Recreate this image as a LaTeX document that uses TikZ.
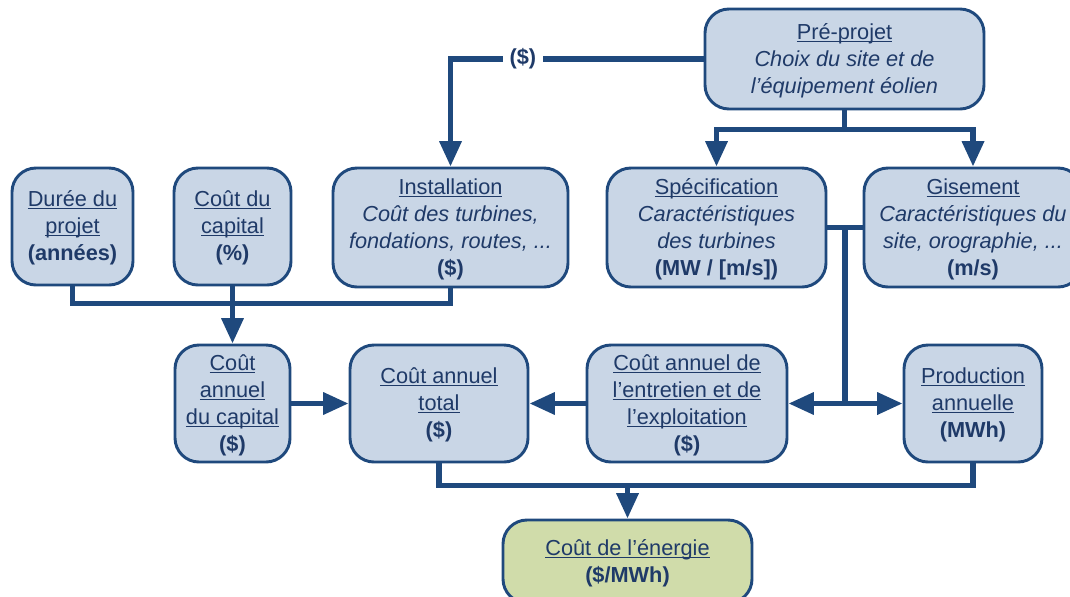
\documentclass[tikz,border=0pt]{standalone}
\usepackage{fontspec}
\setmainfont{Liberation Sans}
\usetikzlibrary{arrows.meta}
\definecolor{boxfill}{HTML}{C9D6E6}
\definecolor{boxline}{HTML}{1F497D}
\definecolor{txtblue}{HTML}{1F3A68}
\definecolor{greenfill}{HTML}{D0DCAA}
\newcommand\titre[1]{\underline{\vphantom{É}\smash{#1}}}

\begin{document}
\begin{tikzpicture}[x=0.75pt,y=-0.75pt,
  bloc/.style={draw=boxline, line width=2.2pt, fill=boxfill, rounded corners=18pt,
    align=center, text=txtblue, inner sep=0pt, font=\fontsize{16.3}{20.2}\selectfont},
  taille/.style 2 args={minimum width=#1*0.75pt, minimum height=#2*0.75pt},
  lien/.style={draw=boxline, line width=4pt},
  fleche/.style={lien, -{Triangle[length=19pt,width=16pt]}}]
\useasboundingbox (0,0) rectangle (1070,596); % crop as in the slide

% top row
\node[bloc, taille={279}{100}] (preprojet) at (844.5,59)
  {\titre{Pré-projet}\\ \textit{Choix du site et de}\\ \textit{l’équipement éolien}};
\node[bloc, taille={121}{117}] (duree) at (72.5,226.5)
  {\titre{Durée du}\\ \titre{projet}\\ \textbf{(années)}};
\node[bloc, taille={117}{117}] (coutcap) at (232.5,226.5)
  {\titre{Coût du}\\ \titre{capital}\\ \textbf{(\%)}};
\node[bloc, taille={235}{119}] (install) at (450.5,227.5)
  {\titre{Installation}\\ \textit{Coût des turbines,}\\ \textit{fondations, routes, ...}\\ \textbf{(\$)}};
\node[bloc, taille={219}{119}] (specif) at (716.5,227.5)
  {\titre{Spécification}\\ \textit{Caractéristiques}\\ \textit{des turbines}\\ \textbf{(MW / [m/s])}};
\node[bloc, taille={218}{119}] (gisement) at (973,227.5)
  {\titre{Gisement}\\ \textit{Caractéristiques du}\\ \textit{site, orographie, ...}\\ \textbf{(m/s)}};

% middle row
\node[bloc, taille={115}{117}] (cacap) at (232.5,403.5)
  {\titre{Coût}\\ \titre{annuel}\\ \titre{du capital}\\ \textbf{(\$)}};
\node[bloc, taille={178}{117}] (catotal) at (439,403.5)
  {\titre{Coût annuel}\\ \titre{total}\\ \textbf{(\$)}};
\node[bloc, taille={200}{117}] (caentr) at (687,403.5)
  {\titre{Coût annuel de}\\ \titre{l’entretien et de}\\ \titre{l’exploitation}\\ \textbf{(\$)}};
\node[bloc, taille={138}{117}] (prod) at (973,403.5)
  {\titre{Production}\\ \titre{annuelle}\\ \textbf{(MWh)}};

% result
\node[bloc, fill=greenfill, taille={249}{83}] (energie) at (627.5,561.5)
  {\titre{Coût de l’énergie}\\ \textbf{(\$/MWh)}};

% connectors
\draw[lien] (preprojet.south) -- ++(0,19) coordinate (fourche);
\draw[fleche] (fourche) -| (specif.north);
\draw[fleche] (fourche) -| (gisement.north);
\draw[fleche] (preprojet.west) -| node[pos=0.357, fill=white, inner xsep=5pt,
  text=txtblue, font=\fontsize{16.3}{19.5}\selectfont\bfseries] (cout) {(\$)} (install.north);

\draw[lien] (duree.south) -- ++(0,17) coordinate (somme) -| (install.south);
\draw[fleche] (coutcap.south) -- (cacap.north);

\draw[lien] (specif.east) -- (gisement.west);
\coordinate (jonction) at (845,227.5);
\draw[lien] (jonction) -- (jonction |- prod.west);
\draw[fleche] (jonction |- caentr.east) -- (caentr.east);
\draw[fleche] (jonction |- prod.west) -- (prod.west);

\draw[fleche] (cacap) -- (catotal);
\draw[fleche] (caentr) -- (catotal);

\draw[lien] (catotal.south) -- ++(0,22) coordinate (bas) -| (prod.south);
\draw[fleche] (bas -| energie.north) -- (energie.north);
\end{tikzpicture}
\end{document}
